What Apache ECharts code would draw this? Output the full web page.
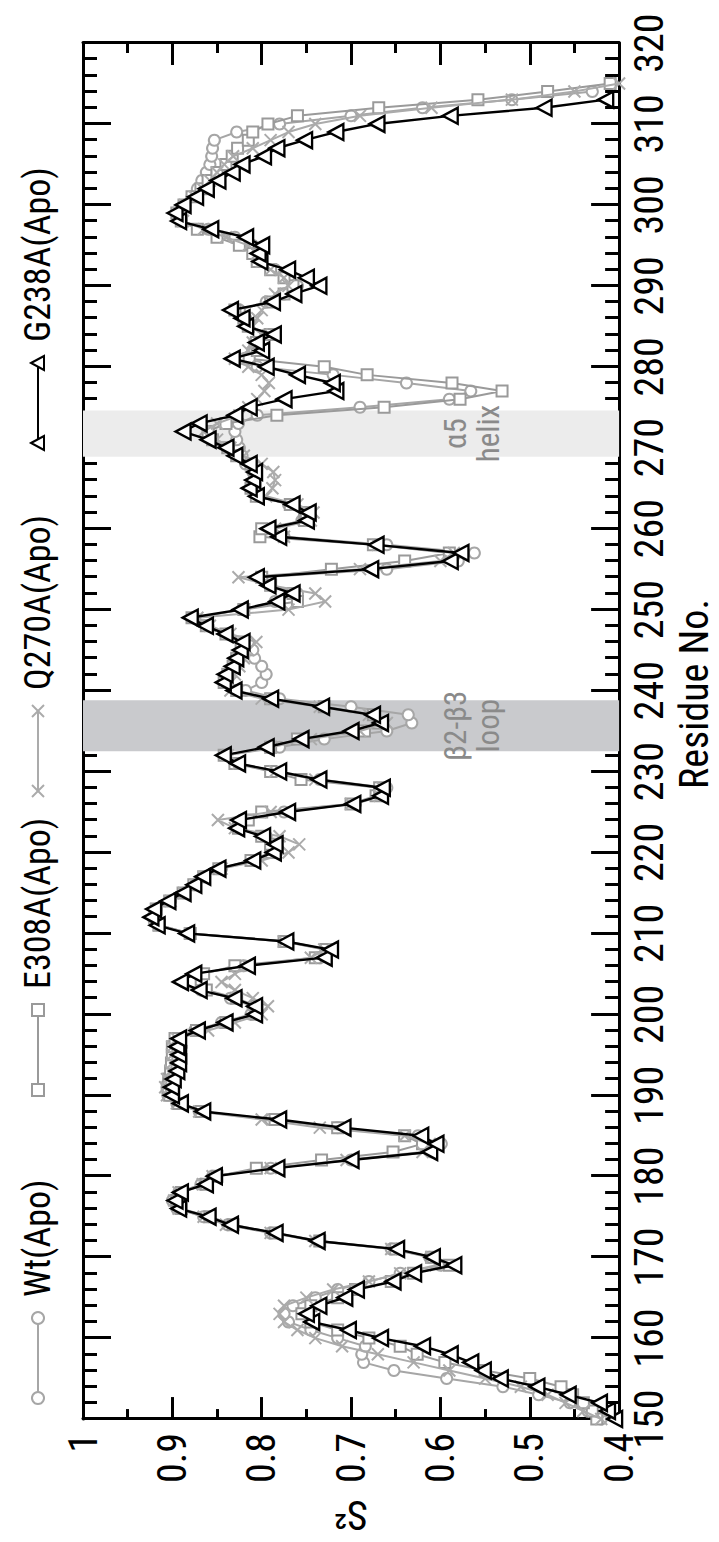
<!DOCTYPE html>
<html><head><meta charset="utf-8">
<script src="https://cdn.jsdelivr.net/npm/echarts@6.0.0/dist/echarts.min.js"></script>
<style>
html,body{margin:0;padding:0;width:719px;height:1542px;overflow:hidden;background:#fff;}
#chart{position:absolute;left:0;top:0;width:1542px;height:719px;transform-origin:0 0;transform:translateY(1542px) rotate(-90deg);}
</style></head><body><div id="chart"></div>
<script>
const residues = [150,151,152,153,154,155,156,157,158,159,160,161,162,163,164,165,166,167,168,169,
170,171,172,173,174,175,176,177,178,179,180,181,182,183,184,185,186,187,188,189,
190,191,192,193,194,195,196,197,198,199,200,201,202,203,204,205,206,207,208,209,
210,211,212,213,214,215,216,217,218,219,220,221,222,223,224,225,226,227,228,229,
230,231,232,233,234,235,236,237,238,239,240,241,242,243,244,245,246,247,248,249,
250,251,252,253,254,255,256,257,258,259,260,261,262,263,264,265,266,267,268,269,
270,271,272,273,274,275,276,277,278,279,280,281,282,283,284,285,286,287,288,289,
290,291,292,293,294,295,296,297,298,299,300,301,302,303,304,305,306,307,308,309,
310,311,312,313,314,315];

const wtApo = [.420,.435,.455,.490,.530,.593,.652,.686,.688,.684,.715,.745,.770,.775,.765,.740,.715,.680,.645,.600,
.612,.655,.735,.790,.838,.865,.895,.900,.893,.868,.855,.790,.700,.610,.599,.625,.715,.790,.870,.895,
.905,.906,.904,.900,.898,.897,.898,.895,.875,.845,.812,.810,.835,.868,.887,.870,.820,.735,.728,.770,
.880,.915,.922,.918,.902,.887,.875,.864,.845,.808,.785,.787,.795,.825,.822,.775,.695,.665,.660,.735,
.785,.826,.840,.780,.730,.660,.632,.636,.700,.780,.818,.800,.795,.800,.808,.810,.815,.838,.860,.875,
.822,.785,.760,.790,.800,.660,.580,.562,.660,.775,.790,.755,.752,.770,.805,.812,.808,.810,.818,.822,
.825,.828,.830,.826,.805,.690,.590,.566,.638,.720,.805,.820,.810,.808,.795,.815,.818,.825,.795,.775,
.760,.770,.785,.800,.805,.810,.830,.860,.890,.895,.886,.878,.872,.867,.862,.858,.856,.855,.853,.828,
.780,.700,.620,.520,.430,null];

const e308aApo = [.425,.430,.440,.452,.465,.500,.550,.595,.626,.645,.680,.715,.745,.755,.745,.715,.695,.655,.630,.590,
.610,.650,.735,.785,.832,.858,.890,.895,.890,.862,.850,.806,.733,.653,.620,.640,.715,.785,.868,.893,
.903,.905,.904,.902,.901,.900,.900,.897,.873,.840,.806,.806,.828,.862,.880,.865,.830,.740,.728,.775,
.880,.915,.920,.918,.903,.888,.876,.865,.848,.812,.790,.790,.800,.826,.815,.800,.700,.672,.668,.756,
.790,.830,.842,.790,.760,.685,.670,.675,.730,.790,.828,.842,.838,.832,.828,.822,.823,.840,.862,.878,
.820,.760,.765,.790,.800,.722,.640,.590,.675,.802,.800,.752,.750,.768,.806,.812,.808,.806,.812,.828,
.838,.855,.860,.840,.783,.663,.578,.531,.587,.682,.730,.814,.805,.806,.790,.815,.820,.830,.790,.775,
.765,.775,.790,.805,.810,.825,.850,.872,.890,.895,.887,.878,.868,.860,.850,.840,.833,.827,.815,.810,
.793,.760,.669,.558,.480,.410];

const q270aApo = [.420,.440,.460,.480,.510,.550,.590,.630,.670,.710,.740,.760,.775,.780,.775,.750,.720,.680,.645,.605,
.610,.655,.740,.790,.840,.865,.893,.898,.893,.866,.855,.790,.705,.620,.612,.640,.735,.800,.870,.895,
.906,.908,.906,.902,.900,.900,.900,.895,.860,.830,.800,.793,.810,.830,.845,.830,.815,.745,.730,.775,
.880,.915,.920,.918,.902,.887,.874,.864,.845,.800,.770,.758,.780,.830,.849,.790,.700,.668,.665,.740,
.785,.826,.838,.790,.745,.690,.660,.680,.735,.800,.835,.835,.830,.825,.820,.815,.806,.835,.858,.872,
.770,.729,.740,.790,.826,.690,.600,.585,.670,.775,.785,.745,.742,.760,.795,.788,.785,.787,.800,.820,
.835,.850,.865,.850,.825,.815,.805,.797,.792,.800,.815,.830,.815,.810,.800,.810,.805,.800,.790,.785,
.770,.775,.790,.800,.805,.815,.840,.865,.888,.893,.886,.875,.866,.858,.850,.842,.832,.810,.790,.770,
.740,.690,.610,.520,.450,.400];

const g238aApo = [.405,.413,.422,.457,.492,.533,.552,.566,.589,.620,.667,.703,.744,.750,.736,.707,.694,.653,.630,.585,
.609,.649,.738,.785,.835,.860,.893,.897,.891,.863,.853,.783,.700,.612,.605,.622,.709,.781,.866,.891,
.901,.901,.899,.895,.893,.893,.895,.893,.872,.841,.808,.808,.831,.870,.891,.876,.816,.730,.723,.773,
.884,.917,.924,.921,.905,.888,.876,.866,.849,.810,.787,.785,.799,.828,.826,.771,.698,.667,.665,.736,
.781,.827,.843,.795,.756,.700,.667,.676,.733,.790,.831,.843,.841,.833,.829,.824,.822,.841,.863,.880,
.824,.783,.766,.793,.806,.678,.589,.577,.672,.781,.793,.750,.748,.766,.806,.814,.810,.808,.814,.830,
.840,.860,.888,.870,.830,.814,.775,.717,.721,.760,.795,.833,.800,.806,.787,.818,.822,.835,.788,.764,
.736,.750,.771,.802,.804,.800,.818,.857,.893,.897,.888,.874,.862,.849,.833,.822,.798,.783,.752,.717,
.671,.589,.484,.415,null,null];

const seriesNames = ['Wt(Apo)','E308A(Apo)','Q270A(Apo)','G238A(Apo)'];
const xTicks = {min:150, max:320, interval:10};
const yTicks = {min:0.4, max:1, interval:0.1};
const regions = [
  {name:'β2-β3\nloop', from:232.5, to:238.8},
  {name:'α5\nhelix', from:268.9, to:274.6}
];

const F = '"Roboto Condensed","Liberation Sans",Arial,sans-serif';
const toData = vals => residues.map((r,i)=> vals[i]==null ? null : [r, vals[i]]).filter(Boolean);

const styles = [
  {symbol:'circle', size:11, color:'#a6a6a6', lw:2},
  {symbol:'rect', size:11, color:'#9a9a9a', lw:2},
  {symbol:'path://M0,0L10,10M10,0L0,10', size:12, color:'#ababab', lw:2},
  {symbol:'triangle', size:[16,15], color:'#000000', lw:2.4}
];
const allVals = [wtApo, e308aApo, q270aApo, g238aApo];

function axisCommon(len, minorLen, minorSplit){
  return {
    axisLine:{onZero:false, lineStyle:{color:'#000', width:3}},
    axisTick:{inside:true, length:len, lineStyle:{color:'#000', width:3}},
    minorTick:{show:true, splitNumber:minorSplit, length:minorLen, lineStyle:{color:'#000', width:3}},
    splitLine:{show:false}, minorSplitLine:{show:false}
  };
}

const series = [{
  type:'line', data:[], silent:true, z:1,
  markArea:{silent:true,
    data: regions.map((g,i)=>[
      {xAxis:g.from, name:g.name,
       itemStyle:{color: i===0 ? '#c9cacd' : '#ececec'},
       label:{show:true, position:'inside', offset:[0,121], color:'#8a8a8a', fontFamily:F, fontSize:31, lineHeight:33}},
      {xAxis:g.to}
    ])
  }
}];
allVals.forEach((vals,i)=>{
  const s = styles[i];
  series.push({
    name: seriesNames[i], type:'line', data: toData(vals),
    symbol: s.symbol, symbolSize: s.size, showAllSymbol:true,
    z: 3 + i,
    lineStyle:{color:s.color, width:s.lw},
    itemStyle: s.symbol.startsWith('path') ? {color:'none', borderColor:s.color, borderWidth:2}
                                           : {color:'#ffffff', borderColor:s.color, borderWidth:s.lw},
    emphasis:{disabled:true}
  });
});

// legend drawn as graphic (line with a symbol at both ends, then the name)
const legendX = [144, 452, 751, 1099];
const legendY = 38;
function legendSymbol(i, cx, cy){
  const c = styles[i].color;
  const st = {fill:'#fff', stroke:c, lineWidth:2};
  if(i===0) return [{type:'circle', shape:{cx, cy, r:6}, style:st}];
  if(i===1) return [{type:'rect', shape:{x:cx-6, y:cy-6, width:12, height:12}, style:st}];
  if(i===2) return [
    {type:'line', shape:{x1:cx-6,y1:cy-6,x2:cx+6,y2:cy+6}, style:{stroke:c, lineWidth:2}},
    {type:'line', shape:{x1:cx+6,y1:cy-6,x2:cx-6,y2:cy+6}, style:{stroke:c, lineWidth:2}}];
  return [{type:'polygon', shape:{points:[[cx,cy-7],[cx+7,cy+6],[cx-7,cy+6]]}, style:st}];
}
const graphic = [];
seriesNames.forEach((nm,i)=>{
  const x0 = legendX[i];
  const c = styles[i].color;
  graphic.push({type:'line', shape:{x1:x0, y1:legendY, x2:x0+80, y2:legendY}, style:{stroke:c, lineWidth:2}});
  legendSymbol(i, x0, legendY).forEach(e=>graphic.push(e));
  legendSymbol(i, x0+80, legendY).forEach(e=>graphic.push(e));
  graphic.push({type:'text', x:x0+101, y:legendY, style:{text:nm, fontFamily:F, fontSize:36, fill:'#000', textVerticalAlign:'middle', verticalAlign:'middle'}});
});

const chart = echarts.init(document.getElementById('chart'), null, {renderer:'svg', width:1542, height:719});
chart.setOption({
  animation:false,
  backgroundColor:'#ffffff',
  grid:{left:111, right:43, top:83, bottom:97},
  xAxis:[
    Object.assign({type:'value', position:'bottom', min:xTicks.min, max:xTicks.max, interval:xTicks.interval,
      axisLabel:{fontFamily:F, fontSize:40, color:'#000', margin:10, showMinLabel:true, showMaxLabel:true},
      name:'Residue No.', nameLocation:'middle', nameGap:50,
      nameTextStyle:{fontFamily:F, fontSize:40, color:'#000', padding:[0,0,0,74]}}, axisCommon(28,14,5)),
    Object.assign({type:'value', position:'top', min:xTicks.min, max:xTicks.max, interval:xTicks.interval,
      axisLabel:{show:false}}, axisCommon(28,14,5))
  ],
  yAxis:[
    Object.assign({type:'value', position:'left', min:yTicks.min, max:yTicks.max, interval:yTicks.interval,
      axisLabel:{fontFamily:F, fontSize:40, color:'#000', margin:14, showMinLabel:true, showMaxLabel:true},
      name:'S²', nameLocation:'middle', nameGap:66, nameRotate:90,
      nameTextStyle:{fontFamily:F, fontSize:40, color:'#000'}}, axisCommon(22,10,2)),
    Object.assign({type:'value', position:'right', min:yTicks.min, max:yTicks.max, interval:yTicks.interval,
      axisLabel:{show:false}}, axisCommon(22,10,2))
  ],
  graphic: graphic,
  series: series
});
</script></body></html>
